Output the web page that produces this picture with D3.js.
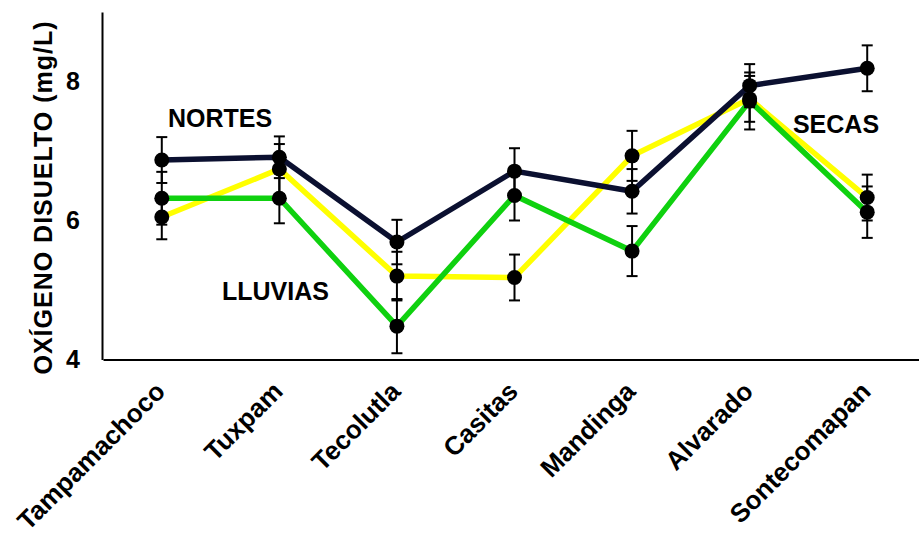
<!DOCTYPE html>
<html>
<head>
<meta charset="utf-8">
<script src="https://cdn.jsdelivr.net/npm/d3@7"></script>
<style>
  html, body { margin: 0; padding: 0; background: #fff; }
  svg { display: block; font-family: "Liberation Sans", Arial, sans-serif; }
</style>
</head>
<body>
<svg id="chart" width="919" height="535"></svg>
<script>
// Dissolved oxygen (mg/L) per lagoon, by climatic season
const lagunas = ["Tampamachoco", "Tuxpam", "Tecolutla", "Casitas", "Mandinga", "Alvarado", "Sontecomapan"];

const nortes    = [6.87, 6.91, 5.69, 6.71, 6.42, 7.94, 8.19];
const nortesErr = [0.33, 0.30, 0.32, 0.33, 0.32, 0.31, 0.33];

const lluvias    = [6.32, 6.32, 4.48, 6.36, 5.56, 7.72, 6.12];
const lluviasErr = [0.38, 0.36, 0.39, 0.36, 0.36, 0.41, 0.37];

const secas    = [6.05, 6.74, 5.20, 5.18, 6.93, 7.75, 6.33];
const secasErr = [0.32, 0.36, 0.35, 0.33, 0.36, 0.33, 0.33];

const yTicks = [4, 6, 8];

const svg = d3.select("#chart");

const x = d3.scalePoint().domain(lagunas).range([103, 926]).padding(0.5);
const y = d3.scaleLinear().domain([4, 9]).range([359.5, 12]);

// series drawn bottom to top
const series = [
  { name: "secas",   values: secas,   err: secasErr,   color: "#ffff00" },
  { name: "lluvias", values: lluvias, err: lluviasErr, color: "#0fd10f" },
  { name: "nortes",  values: nortes,  err: nortesErr,  color: "#0b1030" }
];

// axes
const xAxis = svg.append("g")
  .attr("transform", `translate(0,${y(4)})`)
  .call(d3.axisBottom(x).tickSize(0).tickSizeOuter(0).tickFormat(""));
xAxis.select(".domain").attr("stroke", "#000").attr("stroke-width", 2);

const yAxis = svg.append("g")
  .attr("transform", "translate(102,0)")
  .call(d3.axisLeft(y).tickValues(yTicks).tickSize(0).tickSizeOuter(0).tickPadding(22).tickFormat(d3.format("d")));
yAxis.select(".domain").attr("stroke", "#000").attr("stroke-width", 2);
yAxis.selectAll("text")
  .attr("font-size", 25).attr("font-weight", "bold").attr("fill", "#000")
  .attr("font-family", "'Liberation Sans', Arial, sans-serif");

// category labels, slanted
svg.append("g").selectAll("text")
  .data(lagunas)
  .join("text")
  .attr("transform", d => `translate(${x(d) + 5},393) rotate(-45)`)
  .attr("text-anchor", "end")
  .attr("font-size", 26)
  .attr("font-weight", "bold")
  .text(d => d);

// y title
svg.append("text")
  .attr("transform", "translate(52,197.5) rotate(-90)")
  .attr("text-anchor", "middle")
  .attr("font-size", 25)
  .attr("font-weight", "bold")
  .attr("letter-spacing", 1)
  .text("OXÍGENO DISUELTO (mg/L)");

// lines
const line = d3.line().x((d, i) => x(lagunas[i])).y(d => y(d));
svg.append("g").selectAll("path")
  .data(series)
  .join("path")
  .attr("d", s => line(s.values))
  .attr("fill", "none")
  .attr("stroke", s => s.color)
  .attr("stroke-width", 5.5)
  .attr("stroke-linejoin", "miter");

// error bars
const capW = 5.5;
series.forEach(s => {
  const g = svg.append("g").attr("stroke", "#000").attr("stroke-width", 2);
  s.values.forEach((v, i) => {
    const cx = x(lagunas[i]);
    const top = y(v + s.err[i]), bot = y(v - s.err[i]);
    g.append("line").attr("x1", cx).attr("x2", cx).attr("y1", top).attr("y2", bot);
    g.append("line").attr("x1", cx - capW).attr("x2", cx + capW).attr("y1", top).attr("y2", top);
    g.append("line").attr("x1", cx - capW).attr("x2", cx + capW).attr("y1", bot).attr("y2", bot);
  });
});

// markers
series.forEach(s => {
  svg.append("g").selectAll("circle")
    .data(s.values)
    .join("circle")
    .attr("cx", (d, i) => x(lagunas[i]))
    .attr("cy", d => y(d))
    .attr("r", 7.5)
    .attr("fill", "#000");
});

// season labels
const notes = [
  { text: "NORTES",  x: 220, y: 126.5 },
  { text: "LLUVIAS", x: 275.5, y: 300 },
  { text: "SECAS",   x: 836, y: 133 }
];
svg.append("g").selectAll("text")
  .data(notes)
  .join("text")
  .attr("x", d => d.x)
  .attr("y", d => d.y)
  .attr("text-anchor", "middle")
  .attr("font-size", 25)
  .attr("font-weight", "bold")
  .text(d => d.text);
</script>
</body>
</html>
